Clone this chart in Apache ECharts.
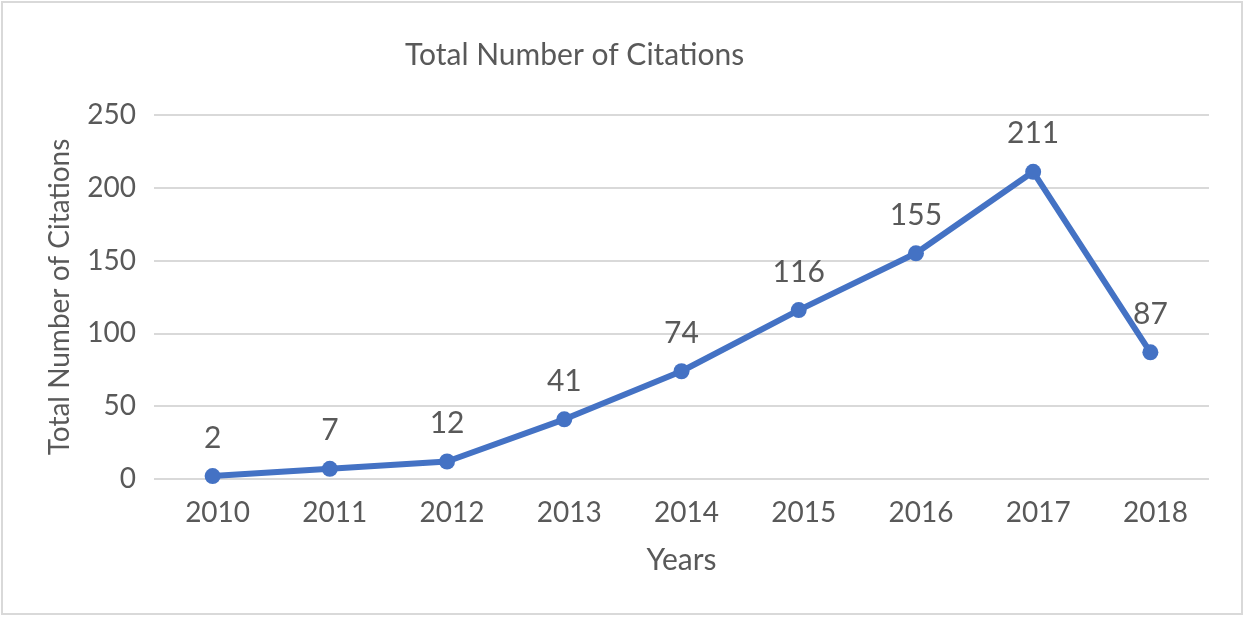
<!DOCTYPE html>
<html><head><meta charset="utf-8">
<script src="https://cdn.jsdelivr.net/npm/echarts@6/dist/echarts.min.js"></script>
<style>html,body{margin:0;padding:0;background:#fff}#c{width:1246px;height:617px}</style>
</head><body><div id="c"></div>
<script>
const categories = ['2010','2011','2012','2013','2014','2015','2016','2017','2018'];
const citations = [2, 7, 12, 41, 74, 116, 155, 211, 87];
const yTicks = [0, 50, 100, 150, 200, 250];

const chart = echarts.init(document.getElementById('c'));
const font = 'Lato';
chart.setOption({
  backgroundColor: '#fff',
  graphic: [{type:'rect', shape:{x:2, y:2, width:1240, height:612}, style:{fill:'none', stroke:'#d9d9d9', lineWidth:2}}],
  title: {text: 'Total Number of Citations', left: 400, top: 35,
    textStyle: {fontFamily: font, fontSize: 30, fontWeight: 'normal', color: '#595959'}},
  grid: {left: 154, right: 37, top: 115, bottom: 138, containLabel: false},
  xAxis: {type: 'category', data: categories, boundaryGap: true,
    name: 'Years', nameLocation: 'middle', nameGap: 66,
    nameTextStyle: {fontFamily: font, fontSize: 30, color: '#595959'},
    axisLine: {show: false}, axisTick: {show: false},
    axisLabel: {fontFamily: font, fontSize: 28, color: '#595959', margin: 20, padding: [0, 0, 0, 10]}},
  yAxis: {type: 'value', min: yTicks[0], max: yTicks[yTicks.length-1], interval: 50,
    name: 'Total Number of Citations', nameLocation: 'middle', nameGap: 80,
    nameTextStyle: {fontFamily: font, fontSize: 28, color: '#595959'},
    axisLine: {show: false}, axisTick: {show: false},
    axisLabel: {fontFamily: font, fontSize: 28, color: '#595959', margin: 18},
    splitLine: {lineStyle: {color: '#d9d9d9', width: 2}}},
  series: [{type: 'line', data: citations, symbol: 'circle', symbolSize: 16,
    itemStyle: {color: '#4472C4'}, lineStyle: {color: '#4472C4', width: 6},
    label: {show: true, position: 'top', distance: 15, fontFamily: font, fontSize: 30, color: '#595959'},
    animation: false}]
});
</script></body></html>
